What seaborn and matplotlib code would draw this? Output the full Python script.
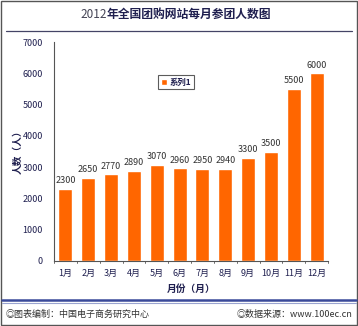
import matplotlib
matplotlib.use("Agg")
import matplotlib.pyplot as plt
import seaborn as sns
import pandas as pd
from matplotlib.patches import Rectangle
from matplotlib.lines import Line2D

months = ["1月", "2月", "3月", "4月", "5月", "6月", "7月", "8月", "9月", "10月", "11月", "12月"]
values = [2300, 2650, 2770, 2890, 3070, 2960, 2950, 2940, 3300, 3500, 5500, 6000]
yticks = [0, 1000, 2000, 3000, 4000, 5000, 6000, 7000]
title_year = "2012"
title_rest = "年全国团购网站每月参团人数图"
series_name = "系列1"

sns.set_theme(style="white")
plt.rcParams['font.family'] = ['Noto Sans CJK SC', 'DejaVu Sans']

navy = "#1f1f4f"
df = pd.DataFrame({"month": months, "value": values})

fig = plt.figure(figsize=(3.58, 3.26), dpi=100)
ax = fig.add_axes([54/358, 65/326, 274/358, 219/326])
sns.barplot(data=df, x="month", y="value", color="#ff6600", saturation=1,
            width=0.62, ax=ax, label=series_name)
ax.set_xlim(-0.5, 11.5)
ax.set_ylim(0, 7000)
ax.set_yticks(yticks)
ax.set_yticklabels([str(t) for t in yticks], fontsize=6.5, color=navy)
ax.set_xticklabels(months, fontsize=6.5, color=navy)
ax.tick_params(axis="x", length=0, pad=6)
ax.tick_params(axis="y", length=3, direction="in", pad=8, color="#444444")
for s in ["top", "right"]:
    ax.spines[s].set_visible(False)
for s in ["left", "bottom"]:
    ax.spines[s].set_color("#555555")
    ax.spines[s].set_linewidth(0.8)
for i, v in enumerate(values):
    ax.text(i, v + 120, str(v), ha="center", va="bottom", fontsize=6.5, color="#333333")
for i in range(13):
    ax.plot([i - 0.5, i - 0.5], [0, -60], color="#555555", lw=0.6, clip_on=False)
ax.set_xlabel("月份（月）", fontsize=7, fontweight="bold", color=navy, labelpad=4)
ax.set_ylabel("")
fig.text(18/358, 1 - 150/326, "人数（人）", rotation=90, ha="center", va="center",
         fontsize=7, fontweight="bold", color=navy)

leg = ax.legend(loc="upper left", bbox_to_anchor=(100/274, 1 - 29/219), fontsize=6,
                frameon=True, handlelength=0.7, handleheight=0.7, borderpad=0.3,
                handletextpad=0.4, fancybox=False)
leg.get_frame().set_edgecolor("#333333")
leg.get_frame().set_linewidth(0.8)
for t in leg.get_texts():
    t.set_color(navy)
    t.set_fontweight("bold")

ty = 1 - 14/326
fig.text(107/358, ty, title_year, ha="right", va="center", fontsize=8.5,
         fontweight="normal", color="#444455")
fig.text(107/358, ty, title_rest, ha="left", va="center", fontsize=8.5,
         fontweight="bold", color=navy)
fig.add_artist(Line2D([6/358, 352/358], [1 - 31/326, 1 - 31/326], color="#444466", lw=0.9))
fig.add_artist(Line2D([2/358, 356/358], [1 - 300/326, 1 - 300/326], color="#3a4a9a", lw=1.8))
fig.add_artist(Line2D([2/358, 356/358], [1 - 303/326, 1 - 303/326], color="#9aa4d0", lw=0.8))
fig.text(6/358, 1 - 314/326, "◎图表编制：中国电子商务研究中心", ha="left", va="center",
         fontsize=6.5, color="#333333")
fig.text(352/358, 1 - 314/326, "◎数据来源：www.100ec.cn", ha="right", va="center",
         fontsize=6.5, color="#333333")
fig.add_artist(Rectangle((0.003, 0.003), 0.994, 0.994, transform=fig.transFigure,
                         fill=False, edgecolor="#555555", lw=1))

fig.savefig("out.png", dpi=100)
